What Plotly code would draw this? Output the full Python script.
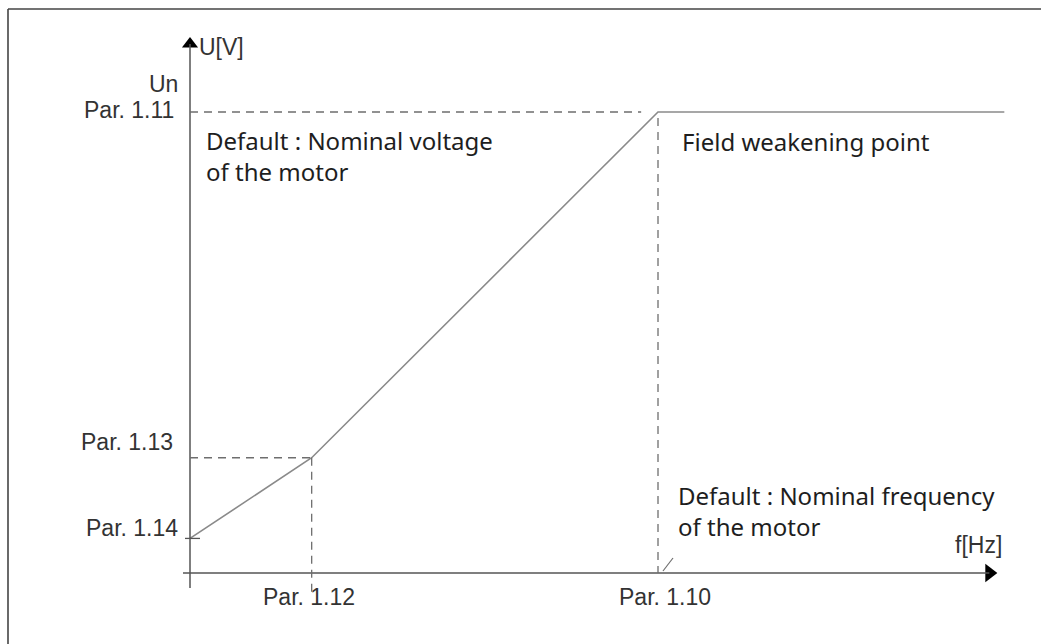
import plotly.graph_objects as go

# V/f characteristic: frequency breakpoints [Hz] and voltages [V]
freq_points = [0, 13, 50, 87]          # 0, Par. 1.12, Par. 1.10, end of constant-voltage zone
volt_points = [30, 100, 400, 400]      # Par. 1.14, Par. 1.13, Par. 1.11 (Un), Un

F_MID = freq_points[1]    # Par. 1.12
F_FWP = freq_points[2]    # Par. 1.10
U_ZERO = volt_points[0]   # Par. 1.14
U_MID = volt_points[1]    # Par. 1.13
U_NOM = volt_points[2]    # Par. 1.11

x_tick_labels = ["Par. 1.12", "Par. 1.10"]
y_tick_labels = ["Par. 1.14", "Par. 1.13", "Par. 1.11"]

W, H = 1041, 644
# pixel placement of the axes origin and scale
ORIGIN_PX = (190, 573)
PX_PER_HZ = 468 / 50
PX_PER_V = 461 / 400

x_range = [-ORIGIN_PX[0] / PX_PER_HZ, (W - ORIGIN_PX[0]) / PX_PER_HZ]
y_range = [-(H - ORIGIN_PX[1]) / PX_PER_V, ORIGIN_PX[1] / PX_PER_V]

F_AXIS_END = 85.4
U_AXIS_END = 459

AXIS_COL = "#555555"
CURVE_COL = "#8a8a8a"
DASH_COL = "#6e6e6e"
LABEL_FONT = dict(family="Liberation Sans, Arial, sans-serif", size=23, color="#333333")
NOTE_FONT = dict(family="Noto Sans, sans-serif", size=24, color="#1e1e1e")
DASH = "8px,6px"

fig = go.Figure()

# characteristic curve
fig.add_trace(go.Scatter(x=freq_points, y=volt_points, mode="lines",
                         line=dict(color=CURVE_COL, width=1.6),
                         hoverinfo="skip", showlegend=False))

# arrow heads on the axes
fig.add_trace(go.Scatter(x=[0], y=[U_AXIS_END], mode="markers",
                         marker=dict(symbol="triangle-up", size=14, color="black"),
                         hoverinfo="skip", showlegend=False))
fig.add_trace(go.Scatter(x=[F_AXIS_END], y=[0], mode="markers",
                         marker=dict(symbol="triangle-right", size=16, color="black"),
                         hoverinfo="skip", showlegend=False))

shapes = []
# outer frame
shapes.append(dict(type="line", xref="paper", yref="paper", x0=8 / W, x1=8 / W, y0=0, y1=1 - 9 / H,
                   line=dict(color="#444444", width=1.6)))
shapes.append(dict(type="line", xref="paper", yref="paper", x0=8 / W, x1=1, y0=1 - 9 / H, y1=1 - 9 / H,
                   line=dict(color="#444444", width=1.6)))
# axes
shapes.append(dict(type="line", xref="x", yref="y", x0=-7 / PX_PER_HZ, x1=F_AXIS_END, y0=0, y1=0,
                   line=dict(color=AXIS_COL, width=1.5)))
shapes.append(dict(type="line", xref="x", yref="y", x0=0, x1=0, y0=-15 / PX_PER_V, y1=U_AXIS_END,
                   line=dict(color=AXIS_COL, width=1.5)))
# dashed guides
shapes.append(dict(type="line", x0=0, x1=F_FWP - 1.8, y0=U_NOM, y1=U_NOM,
                   line=dict(color=DASH_COL, width=1.3, dash=DASH)))
shapes.append(dict(type="line", x0=F_FWP, x1=F_FWP, y0=U_NOM - 6 / PX_PER_V, y1=0,
                   line=dict(color=DASH_COL, width=1.3, dash=DASH)))
shapes.append(dict(type="line", x0=0, x1=F_MID, y0=U_MID, y1=U_MID,
                   line=dict(color=DASH_COL, width=1.3, dash=DASH)))
shapes.append(dict(type="line", x0=F_MID, x1=F_MID, y0=U_MID, y1=-24 / PX_PER_V,
                   line=dict(color=DASH_COL, width=1.3, dash=DASH)))
# small tick at Par. 1.14
shapes.append(dict(type="line", xsizemode="pixel", xanchor=0, x0=-5, x1=10,
                   y0=U_ZERO, y1=U_ZERO, line=dict(color=AXIS_COL, width=1.3)))
# small slash next to Par. 1.10
shapes.append(dict(type="line", xsizemode="pixel", xanchor=F_FWP, x0=5, x1=15,
                   ysizemode="pixel", yanchor=0, y0=2, y1=15,
                   line=dict(color=DASH_COL, width=1.2)))

ann = []
# tick labels on the frequency axis
for f, lab, dx in zip([F_MID, F_FWP], x_tick_labels, [-3, 7]):
    ann.append(dict(x=f, y=0, text=lab, showarrow=False, xanchor="center", yanchor="middle",
                    yshift=-24, xshift=dx, font=LABEL_FONT))
# tick labels on the voltage axis
for u, lab, dy, dx in zip([U_ZERO, U_MID, U_NOM], y_tick_labels, [10, 16, 2], [-10, -15, -14]):
    ann.append(dict(x=0, y=u, text=lab, showarrow=False, xanchor="right", yanchor="middle",
                    yshift=dy, xshift=dx, font=LABEL_FONT))
ann.append(dict(x=0, y=U_NOM, text="Un", showarrow=False, xanchor="right", yanchor="middle",
                yshift=28, xshift=-10, font=LABEL_FONT))
# axis titles
ann.append(dict(x=0, y=U_AXIS_END, text="U[V]", showarrow=False, xanchor="left", yanchor="middle",
                yshift=-3, xshift=7, font=LABEL_FONT))
ann.append(dict(x=F_AXIS_END, y=0, text="f[Hz]", showarrow=False, xanchor="right", yanchor="middle",
                yshift=28, xshift=15, font=LABEL_FONT))
# notes
ann.append(dict(x=0, y=U_NOM, text="Default : Nominal voltage<br>of the motor", showarrow=False,
                xanchor="left", yanchor="top", align="left", xshift=14, yshift=-10, font=NOTE_FONT))
ann.append(dict(x=F_FWP, y=U_NOM, text="Field weakening point", showarrow=False,
                xanchor="left", yanchor="top", align="left", xshift=22, yshift=-11, font=NOTE_FONT))
ann.append(dict(x=F_FWP, y=0, text="Default : Nominal frequency<br>of the motor", showarrow=False,
                xanchor="left", yanchor="bottom", align="left", xshift=18, yshift=28, font=NOTE_FONT))

fig.update_layout(
    width=W, height=H,
    margin=dict(l=0, r=0, t=0, b=0),
    paper_bgcolor="white", plot_bgcolor="white",
    xaxis=dict(range=x_range, visible=False, fixedrange=True),
    yaxis=dict(range=y_range, visible=False, fixedrange=True),
    shapes=shapes, annotations=ann, showlegend=False,
)

fig.write_html("out.html")
